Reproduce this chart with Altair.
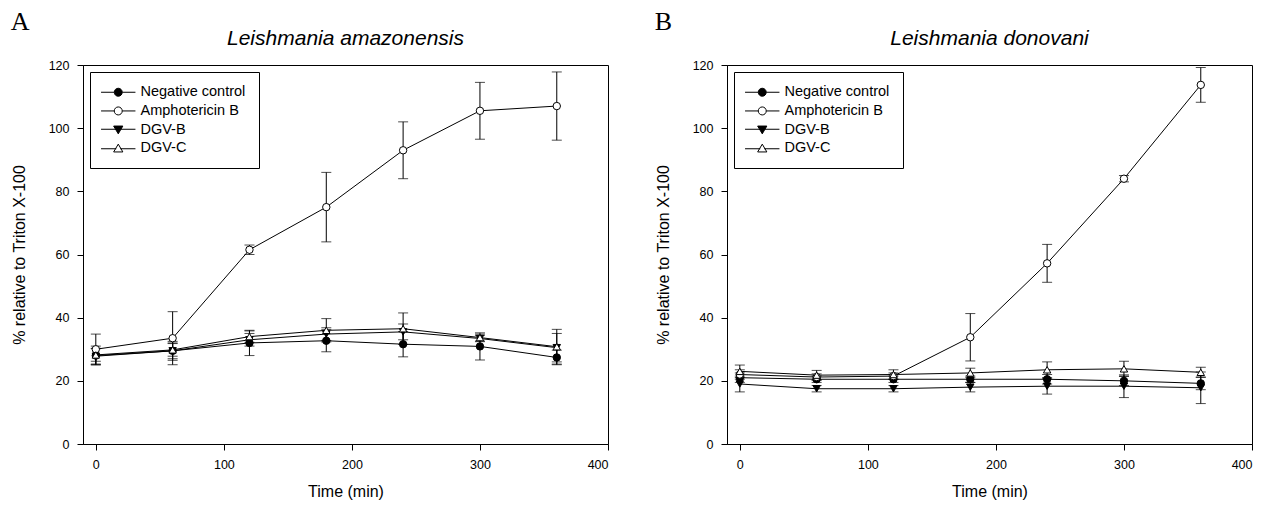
import altair as alt
import pandas as pd

times = [0, 60, 120, 180, 240, 300, 360]
series_names = ["Negative control", "Amphotericin B", "DGV-B", "DGV-C"]

# Panel A - Leishmania amazonensis
a_neg = [28.0, 29.5, 32.0, 32.7, 31.6, 30.9, 27.4]
a_neg_err = [3.0, 3.0, 4.0, 3.5, 4.0, 4.3, 2.3]
a_amph = [30.0, 33.5, 61.5, 75.0, 93.0, 105.5, 107.0]
a_amph_err = [4.8, 8.4, 1.5, 11.0, 9.0, 9.0, 10.8]
a_dgvb = [27.8, 29.5, 33.0, 34.8, 35.5, 33.4, 30.5]
a_dgvb_err = [2.5, 2.5, 2.0, 2.0, 2.5, 1.0, 4.5]
a_dgvc = [28.2, 29.8, 34.0, 36.0, 36.5, 33.7, 30.8]
a_dgvc_err = [2.0, 2.0, 1.8, 3.7, 5.0, 1.1, 5.5]

# Panel B - Leishmania donovani
b_neg = [21.0, 20.5, 20.5, 20.5, 20.5, 20.0, 19.2]
b_neg_err = [1.5, 1.0, 1.0, 1.0, 1.5, 1.5, 2.0]
b_amph = [22.0, 21.2, 21.5, 33.8, 57.2, 84.0, 113.7]
b_amph_err = [1.5, 1.0, 1.0, 7.5, 6.0, 1.0, 5.5]
b_dgvb = [19.0, 17.5, 17.5, 18.0, 18.3, 18.3, 17.8]
b_dgvb_err = [2.5, 1.0, 1.0, 1.5, 2.5, 3.6, 5.0]
b_dgvc = [23.0, 21.8, 22.0, 22.5, 23.5, 23.8, 22.7]
b_dgvc_err = [2.0, 1.5, 1.5, 1.5, 2.5, 2.4, 1.6]

x_ticks = [0, 100, 200, 300, 400]
y_ticks = [0, 20, 40, 60, 80, 100, 120]

FONT = "Liberation Sans"


def make_df(groups):
    rows = []
    for name, vals, errs in groups:
        for t, v, e in zip(times, vals, errs):
            rows.append({"time": t, "series": name, "label": name, "value": v,
                         "lo": v - e, "hi": v + e})
    return pd.DataFrame(rows)


df_a = make_df([
    ("Negative control", a_neg, a_neg_err),
    ("Amphotericin B", a_amph, a_amph_err),
    ("DGV-B", a_dgvb, a_dgvb_err),
    ("DGV-C", a_dgvc, a_dgvc_err),
])
df_b = make_df([
    ("Negative control", b_neg, b_neg_err),
    ("Amphotericin B", b_amph, b_amph_err),
    ("DGV-B", b_dgvb, b_dgvb_err),
    ("DGV-C", b_dgvc, b_dgvc_err),
])

# legend glyphs: marker with a short line through it
circ = "M-4.3,0L-1,0M1,0L4.3,0M1,0A1,1,0,1,1,-1,0A1,1,0,1,1,1,0Z"
tdown = "M-4.3,-0.1L-0.5,-0.1M0.5,-0.1L4.3,-0.1M0,1.05L1.15,-0.9L-1.15,-0.9Z"
tup = "M-4.3,0.1L-0.5,0.1M0.5,0.1L4.3,0.1M0,-1.05L1.15,0.9L-1.15,0.9Z"


def panel(df, title, letter):
    x = alt.X("time:Q",
              scale=alt.Scale(domain=[-10, 400], nice=False, zero=False),
              axis=alt.Axis(values=x_ticks, title="Time (min)",
                            labelPadding=8, titlePadding=13))
    y_title = "% relative to Triton X-100"
    yscale = alt.Scale(domain=[0, 120], nice=False)
    yaxis = alt.Axis(values=y_ticks, title=y_title, labelPadding=8,
                     titlePadding=21)
    base = alt.Chart(df)

    lines = base.mark_line(color="black", strokeWidth=1).encode(
        x=x, y=alt.Y("value:Q", scale=yscale, axis=yaxis), detail="series:N")

    bars = base.mark_errorbar(
        color="black",
        ticks=alt.MarkConfig(size=10, color="black", strokeWidth=1),
        rule=alt.MarkConfig(strokeWidth=1, color="black"),
    ).encode(
        x=x,
        y=alt.Y("lo:Q", scale=yscale, axis=yaxis, title=y_title),
        y2="hi:Q",
    )

    points = base.mark_point(filled=True, stroke="black", strokeWidth=1,
                             opacity=1).encode(
        x=x,
        y=alt.Y("value:Q", scale=yscale, axis=yaxis),
        shape=alt.Shape("series:N", scale=alt.Scale(
            domain=series_names,
            range=["circle", "circle", "triangle-down", "triangle-up"]),
            legend=None),
        fill=alt.Fill("series:N", scale=alt.Scale(
            domain=series_names, range=["black", "white", "black", "white"]),
            legend=None),
        size=alt.Size("series:N", scale=alt.Scale(
            domain=series_names, range=[55, 55, 80, 80]), legend=None),
    )

    legend = alt.Legend(
        title=None, orient="top-left", offset=7,
        strokeColor="black", fillColor="white", padding=13,
        labelFont=FONT, labelFontSize=14.5, labelColor="black",
        symbolSize=64, symbolStrokeColor="black", symbolStrokeWidth=1,
        symbolOpacity=1, symbolOffset=8, labelOffset=15, rowPadding=3.7,
    )
    legend_layer = base.transform_filter("datum.time < -1000").mark_point(
        filled=True, strokeWidth=1, size=64
    ).encode(
        x=x,
        y=alt.Y("value:Q", scale=yscale, axis=yaxis),
        shape=alt.Shape("label:N", scale=alt.Scale(
            domain=series_names, range=[circ, circ, tdown, tup]),
            legend=legend),
        fill=alt.Fill("label:N", scale=alt.Scale(
            domain=series_names, range=["black", "white", "black", "white"]),
            legend=legend),
        stroke=alt.Stroke("label:N", scale=alt.Scale(
            domain=series_names, range=["black", "black", "black", "black"]),
            legend=legend),
    )

    layered = alt.layer(lines, bars, points, legend_layer).resolve_scale(
        shape="independent", fill="independent", stroke="independent",
        size="independent"
    ).properties(
        width=525, height=379,
        title=alt.Title(title, font=FONT, fontSize=21, fontStyle="italic",
                        fontWeight="normal", color="black", offset=10),
    )
    return alt.vconcat(layered).properties(
        title=alt.Title(letter, anchor="start", font="Liberation Serif",
                        fontSize=26, fontWeight="normal", color="black",
                        offset=-7)
    )


chart = alt.hconcat(
    panel(df_a, "Leishmania amazonensis", "A"),
    panel(df_b, "Leishmania donovani", "B"),
    spacing=45,
).resolve_scale(
    shape="independent", fill="independent", stroke="independent",
    size="independent"
).configure(
    background="white", padding={"left": 2, "top": 0, "right": 0, "bottom": 0}
).configure_view(
    stroke="black", strokeWidth=1
).configure_axis(
    grid=False, domainColor="black", tickColor="black", labelColor="black",
    titleColor="black", labelFont=FONT, titleFont=FONT, labelFontSize=12.5,
    titleFontSize=16, titleFontWeight="normal", tickSize=6,
)

chart.save("out.html", embed_options={"renderer": "svg", "actions": False})
